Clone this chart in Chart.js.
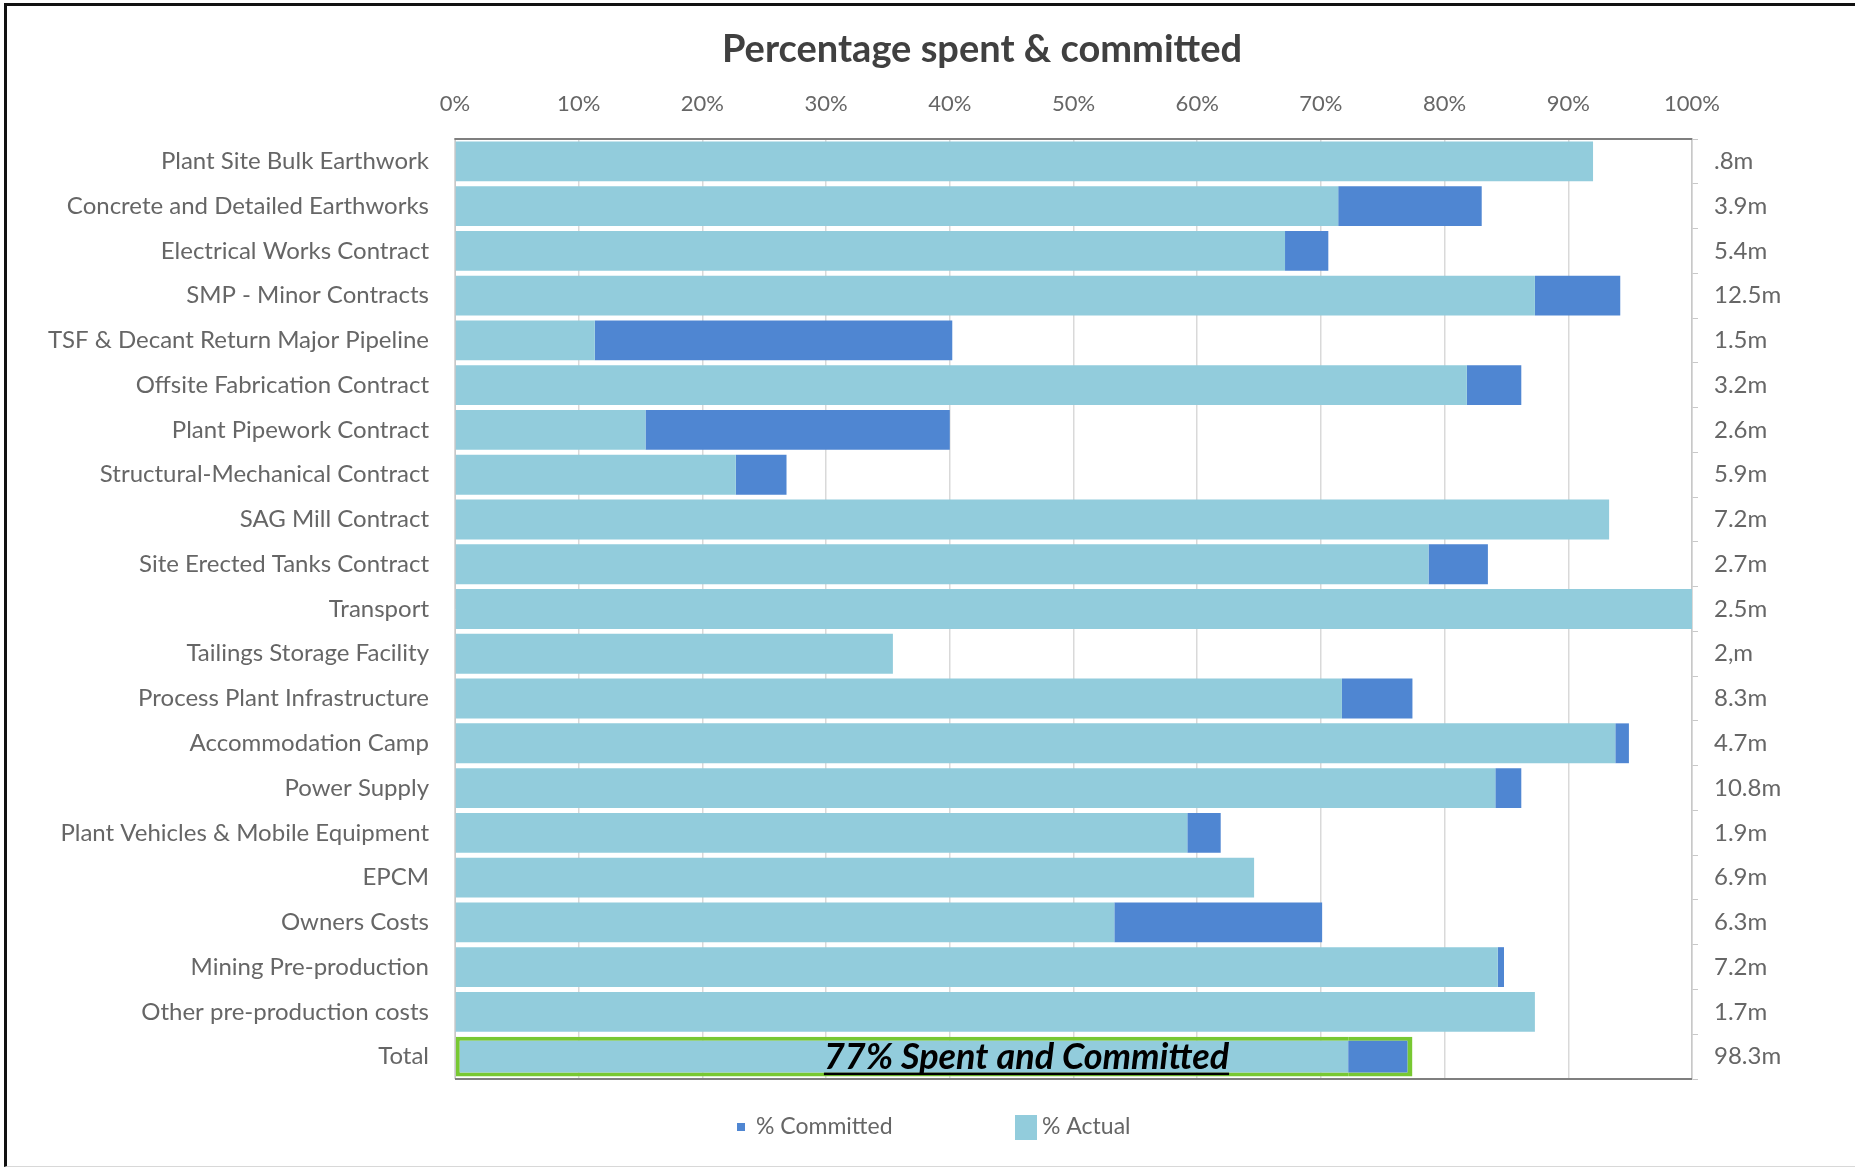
<!DOCTYPE html>
<html>
<head>
<meta charset="utf-8">
<script src="https://cdn.jsdelivr.net/npm/chart.js@4/dist/chart.umd.min.js"></script>
<style>
html,body{margin:0;padding:0;background:#fff;overflow:hidden;}
#wrap{position:absolute;left:0;top:0;width:1855px;height:1171px;}
canvas{position:absolute;left:0;top:0;}
#frame{position:absolute;left:4px;top:3px;width:1851px;height:1164px;border-left:3px solid #111;border-top:3px solid #111;border-bottom:1px solid #d8d8d8;pointer-events:none;box-sizing:border-box;}
</style>
</head>
<body>
<div id="wrap">
<canvas id="c" width="1855" height="1171"></canvas>
<div id="frame"></div>
</div>
<script>
const chartTitle = 'Percentage spent & committed';
const totalNote = '77% Spent and Committed';

const categories = [
  'Plant Site Bulk Earthwork',
  'Concrete and Detailed Earthworks',
  'Electrical Works Contract',
  'SMP - Minor Contracts',
  'TSF & Decant Return Major Pipeline',
  'Offsite Fabrication Contract',
  'Plant Pipework Contract',
  'Structural-Mechanical Contract',
  'SAG Mill Contract',
  'Site Erected Tanks Contract',
  'Transport',
  'Tailings Storage Facility',
  'Process Plant Infrastructure',
  'Accommodation Camp',
  'Power Supply',
  'Plant Vehicles & Mobile Equipment',
  'EPCM',
  'Owners Costs',
  'Mining Pre-production',
  'Other pre-production costs',
  'Total'
];

const budgetLabels = [
  '.8m','3.9m','5.4m','12.5m','1.5m','3.2m','2.6m','5.9m','7.2m','2.7m','2.5m',
  '2,m','8.3m','4.7m','10.8m','1.9m','6.9m','6.3m','7.2m','1.7m','98.3m'
];

const pctActual = [
  92.0, 71.4, 67.1, 87.3, 11.3, 81.8, 15.4, 22.7, 93.3, 78.7, 100,
  35.4, 71.7, 93.8, 84.1, 59.2, 64.6, 53.3, 84.3, 87.3, 72.2
];

const pctCommitted = [
  0, 11.6, 3.5, 6.9, 28.9, 4.4, 24.6, 4.1, 0, 4.8, 0,
  0, 5.7, 1.1, 2.1, 2.7, 0, 16.8, 0.5, 0, 5.2
];

const xTickValues = [0,10,20,30,40,50,60,70,80,90,100];

const FONT = 'Lato, "Open Sans", "DejaVu Sans", sans-serif';
const COL_ACTUAL = '#92CCDC';
const COL_COMMIT = '#4F86D2';
const GREEN = '#78C832';
const TXT = '#666666';
const lastIdx = categories.length - 1;

const frameLines = {
  id: 'frameLines',
  beforeDatasetsDraw(chart) {
    const a = chart.chartArea, ctx = chart.ctx;
    ctx.save();
    ctx.lineWidth = 2;
    ctx.strokeStyle = '#7f7f7f';
    ctx.beginPath();
    ctx.moveTo(a.left, a.top); ctx.lineTo(a.right, a.top);
    ctx.moveTo(a.left, a.bottom); ctx.lineTo(a.right, a.bottom);
    ctx.stroke();
    ctx.restore();
  }
};

const titleAndNotes = {
  id: 'titleAndNotes',
  afterDraw(chart) {
    const ctx = chart.ctx;
    ctx.save();
    // title
    ctx.font = 'bold 38px ' + FONT;
    ctx.fillStyle = '#404040';
    ctx.textAlign = 'center';
    ctx.textBaseline = 'middle';
    ctx.fillText(chartTitle, 982, 50);

    // total annotation
    const meta = chart.getDatasetMeta(0);
    const el = meta.data[lastIdx];
    const xs = chart.scales.x;
    const cx = xs.getPixelForValue(46.2);
    ctx.font = 'italic bold 36px ' + FONT;
    ctx.fillStyle = '#000';
    ctx.textBaseline = 'alphabetic';
    const base = el.y + 12;
    ctx.fillText(totalNote, cx, base);
    const w = ctx.measureText(totalNote).width;
    ctx.fillRect(cx - w / 2, base + 4, w, 2.5);

    // legend
    const ds = chart.data.datasets;
    const cy = 1127;
    ctx.font = '23px ' + FONT;
    ctx.textAlign = 'left';
    ctx.textBaseline = 'middle';
    ctx.fillStyle = ds[1].backgroundColor;
    ctx.fillRect(737, cy - 4, 8, 8);
    ctx.fillStyle = TXT;
    ctx.fillText(ds[1].label, 756, cy);
    ctx.fillStyle = ds[0].backgroundColor;
    ctx.fillRect(1015, cy - 12, 22, 25);
    ctx.fillStyle = TXT;
    ctx.fillText(ds[0].label, 1042, cy);
    ctx.restore();
  }
};

new Chart(document.getElementById('c'), {
  type: 'bar',
  data: {
    labels: categories,
    datasets: [
      {
        label: '% Actual',
        data: pctActual,
        backgroundColor: COL_ACTUAL,
        borderColor: c => c.dataIndex === lastIdx ? GREEN : 'rgba(0,0,0,0)',
        borderWidth: c => c.dataIndex === lastIdx ? {top:4,bottom:4,left:4,right:0} : 0,
        borderSkipped: false,
        barPercentage: 0.89,
        categoryPercentage: 1.0
      },
      {
        label: '% Committed',
        data: pctCommitted,
        backgroundColor: COL_COMMIT,
        borderColor: c => c.dataIndex === lastIdx ? GREEN : 'rgba(0,0,0,0)',
        borderWidth: c => c.dataIndex === lastIdx ? {top:4,bottom:4,left:0,right:5} : 0,
        borderSkipped: false,
        barPercentage: 0.89,
        categoryPercentage: 1.0
      }
    ]
  },
  options: {
    indexAxis: 'y',
    responsive: false,
    animation: false,
    layout: { padding: { top: 0, left: 0, right: 0, bottom: 92 } },
    plugins: {
      legend: { display: false },
      title: { display: false },
      tooltip: { enabled: false }
    },
    scales: {
      x: {
        type: 'linear',
        position: 'top',
        stacked: true,
        min: 0,
        max: 100,
        afterBuildTicks: s => { s.ticks = xTickValues.map(v => ({ value: v })); },
        afterFit: s => { s.height = 139; },
        ticks: {
          callback: v => v + '%',
          color: TXT,
          font: { family: FONT, size: 22 },
          padding: 22,
          maxRotation: 0
        },
        grid: { color: '#d9d9d9', lineWidth: 1.5, drawTicks: false },
        border: { display: true, color: '#a6a6a6', width: 2 }
      },
      y: {
        type: 'category',
        stacked: true,
        offset: true,
        afterFit: s => { s.width = 455; },
        ticks: {
          color: TXT,
          font: { family: FONT, size: 24 },
          padding: 26,
          autoSkip: false
        },
        grid: { display: true, drawOnChartArea: false, drawTicks: false },
        border: { display: true, color: '#c8c8c8', width: 1 }
      },
      y2: {
        type: 'category',
        position: 'right',
        labels: budgetLabels,
        offset: true,
        afterFit: s => { s.width = 1855 - 1692; },
        ticks: {
          color: TXT,
          font: { family: FONT, size: 24 },
          padding: 16,
          autoSkip: false
        },
        grid: { display: true, drawOnChartArea: false, drawTicks: true, tickLength: 6, color: '#c8c8c8', offset: true },
        border: { display: true, color: '#c8c8c8', width: 1.5 }
      }
    }
  },
  plugins: [frameLines, titleAndNotes]
});
</script>
</body>
</html>
